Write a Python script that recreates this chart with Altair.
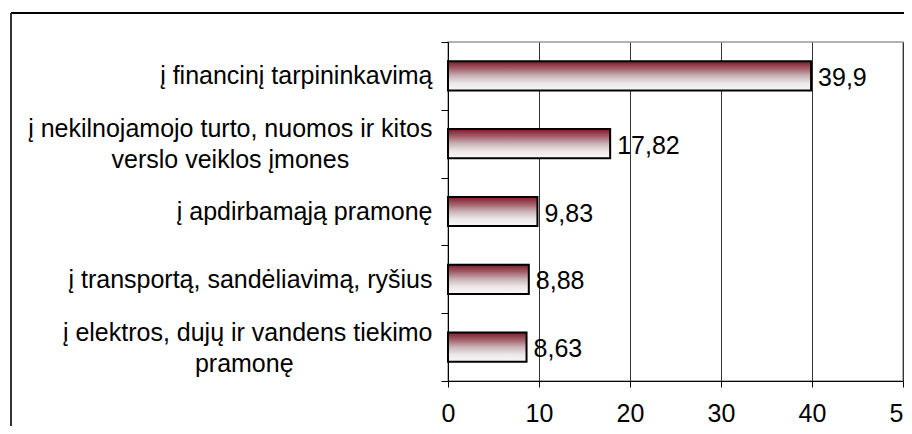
import altair as alt
import pandas as pd

NB = "\u00a0"
ZW = "\u200b"
categories = [
    "į financinį tarpininkavimą",
    "į nekilnojamojo turto, nuomos ir kitos|verslo veiklos įmones" + NB * 12 + ZW,
    "į apdirbamąją pramonę",
    "į transportą, sandėliavimą, ryšius",
    "į elektros, dujų ir vandens tiekimo|pramonę" + NB * 20 + ZW,
]
values = [39.9, 17.82, 9.83, 8.88, 8.63]

df = pd.DataFrame({"cat": categories, "v": values})

FONT = "Liberation Sans"
FS = 25

grad = alt.LinearGradient(
    gradient="linear",
    stops=[
        alt.GradientStop(color="#7e1a28", offset=0),
        alt.GradientStop(color="#a2606a", offset=0.25),
        alt.GradientStop(color="#c9b3b7", offset=0.5),
        alt.GradientStop(color="#ece6e8", offset=0.75),
        alt.GradientStop(color="#f8f8f8", offset=1),
    ],
    x1=0, x2=0, y1=0, y2=1,
)

y_enc = alt.Y(
    "cat:N",
    sort=categories,
    scale=alt.Scale(paddingInner=0, paddingOuter=0),
    axis=alt.Axis(
        title=None,
        labelExpr="split(datum.label, '|')",
        labelFont=FONT,
        labelFontSize=FS,
        labelColor="black",
        labelLineHeight=31,
        labelOffset={"condition": {"test": "indexof(datum.label, '|') >= 0", "value": -15}, "value": 0},
        labelPadding=9,
        labelLimit=0,
        tickBand="extent",
        tickSize=7,
        tickColor="black",
        domainColor="black",
        grid=False,
    ),
)
x_enc = alt.X(
    "v:Q",
    scale=alt.Scale(domain=[0, 50]),
    axis=alt.Axis(
        title=None,
        values=[0, 10, 20, 30, 40, 50],
        labelFont=FONT,
        labelFontSize=FS,
        labelColor="black",
        labelPadding=14,
        tickSize=6,
        tickColor="black",
        domainColor="black",
        gridColor="#333333",
        gridOpacity=1,
        labelFlush=False,
    ),
)

bars = alt.Chart(df).mark_bar(
    color=grad, stroke="black", strokeWidth=2, height=alt.RelativeBandSize(0.43)
).encode(y=y_enc, x=x_enc)

texts = alt.Chart(df).transform_calculate(
    lab="replace(toString(datum.v), '.', ',')"
).mark_text(
    align="left", baseline="middle", dx=7, dy=2, font=FONT, fontSize=FS, color="black"
).encode(y=alt.Y("cat:N", sort=categories), x="v:Q", text="lab:N")

frame_top = alt.Chart(df).mark_rule(color="black", strokeWidth=1.5).encode(
    x=alt.value(-437), x2=alt.value(470), y=alt.value(-29)
)
frame_left = alt.Chart(df).mark_rule(color="#333333", strokeWidth=2).encode(
    x=alt.value(-437), y=alt.value(-29), y2=alt.value(400)
)

chart = alt.layer(bars, texts, frame_top, frame_left).properties(
    width=455,
    height=339,
    padding={"left": 440, "top": 34, "right": 1, "bottom": 45},
    autosize=alt.AutoSizeParams(type="none"),
).configure_view(stroke="#999999", strokeWidth=1.5)

chart.save("out.html", embed_options={"renderer": "svg", "actions": False})
